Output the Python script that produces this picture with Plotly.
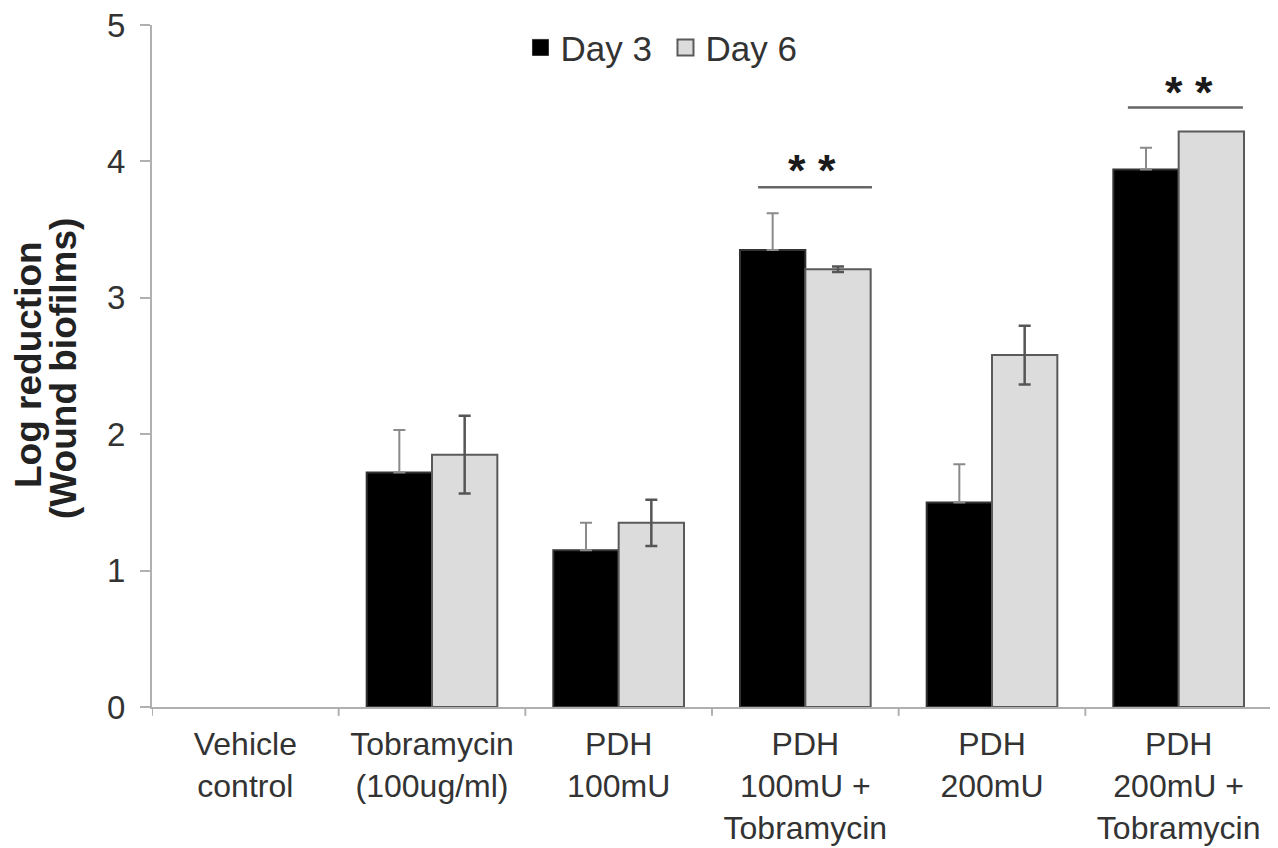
import plotly.graph_objects as go

categories = ["Vehicle<br>control", "Tobramycin<br>(100ug/ml)", "PDH<br>100mU",
              "PDH<br>100mU +<br>Tobramycin", "PDH<br>200mU", "PDH<br>200mU +<br>Tobramycin"]
day3 = [0, 1.72, 1.15, 3.35, 1.50, 3.94]
day3_err = [None, 0.31, 0.20, 0.27, 0.28, 0.16]
day6 = [0, 1.85, 1.35, 3.21, 2.58, 4.22]
day6_err = [None, 0.285, 0.17, 0.02, 0.215, None]
y_ticks = [0, 1, 2, 3, 4, 5]

FONT = "Liberation Sans, Arial, sans-serif"
AXIS_GREY = "#b0b0b0"

line_w = [0 if v == 0 else 2 for v in day3]


def no_bar(errs, minus=False):
    # "NaN" makes plotly.js skip the error bar for that point
    return ["NaN" if e is None else (0 if minus else e) for e in errs]


fig = go.Figure()
fig.add_trace(go.Bar(
    x=list(range(6)), y=day3, name="Day 3", showlegend=False,
    marker=dict(color="black", line=dict(color="#333333", width=line_w)),
    error_y=dict(type="data", array=no_bar(day3_err), arrayminus=no_bar(day3_err, True),
                 symmetric=False, color="#8a8a8a", thickness=2, width=6),
))
fig.add_trace(go.Bar(
    x=list(range(6)), y=day6, name="Day 6", showlegend=False,
    marker=dict(color="#dcdcdc", line=dict(color="#5a5a5a", width=line_w)),
    error_y=dict(type="data", array=no_bar(day6_err), color="#555555", thickness=2.5, width=6),
))
# legend entries
fig.add_trace(go.Scatter(x=[None], y=[None], mode="markers", name="Day 3",
                         marker=dict(symbol="square", size=18, color="black",
                                     line=dict(color="#333333", width=1))))
fig.add_trace(go.Scatter(x=[None], y=[None], mode="markers", name="Day 6",
                         marker=dict(symbol="square", size=18, color="#dcdcdc",
                                     line=dict(color="#5a5a5a", width=2))))

# significance markers
sig = [(3, -0.253, 0.357, 3.81, 0.036, 3.935), (5, -0.272, 0.344, 4.396, 0.055, 4.505)]
for idx, x0, x1, yl, xs, ys in sig:
    fig.add_shape(type="line", xref="x", yref="y", x0=idx + x0, x1=idx + x1, y0=yl, y1=yl,
                  line=dict(color="#666666", width=2.5))
    fig.add_annotation(x=idx + xs, y=ys, xref="x", yref="y", text="<b>* *</b>", showarrow=False,
                       yanchor="middle", font=dict(family=FONT, size=45, color="#1a1a1a"))

# y-axis title (two lines), positions given in page pixels, converted below
title_lines = [("<b>Log reduction</b>", 28, 365), ("<b>(Wound biofilms)</b>", 63, 369)]
PL, PR, PT, PB = 152, 1272, 25, 707   # plot area in page pixels
for txt, px, py in title_lines:
    fig.add_annotation(x=(px - PL) / (PR - PL), y=(PB - py) / (PB - PT),
                       xref="paper", yref="paper", text=txt, showarrow=False, textangle=-90,
                       xanchor="center", yanchor="middle",
                       font=dict(family=FONT, size=37, color="#222222"))

# page body has an 8px margin, so the figure sits at (8, 8)
OFF = 8
fig.update_layout(
    width=1278 - OFF, height=848 - OFF,
    margin=dict(l=PL - OFF, r=1278 - PR, t=PT - OFF, b=848 - PB, autoexpand=False),
    plot_bgcolor="white", paper_bgcolor="white",
    barmode="group", bargap=0.3, bargroupgap=0,
    font=dict(family=FONT, color="#333333"),
    legend=dict(orientation="h", x=0.329, xanchor="left", y=1.01, yanchor="top",
                font=dict(family=FONT, size=35, color="#333333"),
                entrywidth=100, entrywidthmode="pixels",
                traceorder="normal", bgcolor="rgba(0,0,0,0)"),
    showlegend=True,
)

fig.update_xaxes(
    range=[-0.5, 5.5], tickmode="array", tickvals=list(range(6)), ticktext=categories,
    showline=True, linecolor=AXIS_GREY, linewidth=2, showgrid=False, zeroline=False,
    ticks="", tickfont=dict(family=FONT, size=32, color="#333333"), ticklabelstandoff=8,
    ticklabeloverflow="allow", automargin=False,
)
# category boundary tick marks
for i in range(7):
    fig.add_shape(type="line", xref="x", yref="paper", x0=i - 0.5, x1=i - 0.5, y0=0, y1=-0.013,
                  line=dict(color=AXIS_GREY, width=2))
fig.update_yaxes(
    range=[0, 5], tickmode="array", tickvals=y_ticks,
    showline=True, linecolor=AXIS_GREY, linewidth=2, showgrid=False, zeroline=False,
    ticks="outside", ticklen=10, tickcolor=AXIS_GREY, tickwidth=2,
    tickfont=dict(family=FONT, size=33, color="#333333"), ticklabelstandoff=8,
    ticklabeloverflow="allow", automargin=False,
)

fig.write_html("out.html")
